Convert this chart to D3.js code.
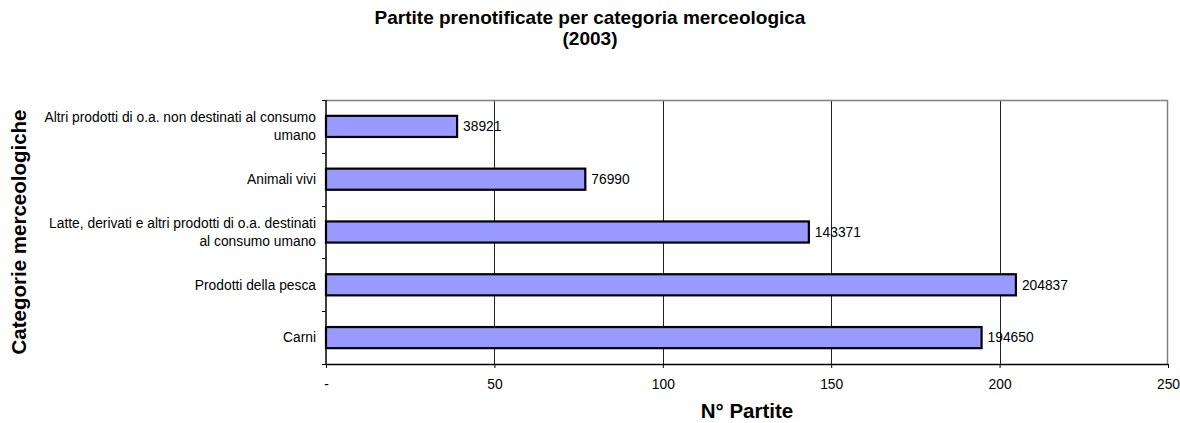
<!DOCTYPE html>
<html>
<head>
<meta charset="utf-8">
<script src="https://cdn.jsdelivr.net/npm/d3@7/dist/d3.min.js"></script>
<style>
  html, body { margin: 0; padding: 0; background: #fff; }
  svg { display: block; font-family: "Liberation Sans", Arial, sans-serif; }
</style>
</head>
<body>
<svg id="chart" width="1180" height="423"></svg>
<script>
// Categories from top to bottom; "\n" marks a line break in the label
const categories = [
  "Altri prodotti di o.a. non destinati al consumo\numano",
  "Animali vivi",
  "Latte, derivati e altri prodotti di o.a. destinati\nal consumo umano",
  "Prodotti della pesca",
  "Carni"
];
const partite = [38921, 76990, 143371, 204837, 194650];
const xTicks = [0, 50000, 100000, 150000, 200000, 250000];
const xTickLabels = ["-", "50", "100", "150", "200", "250"];

const titleLines = ["Partite prenotificate per categoria merceologica", "(2003)"];
const xTitle = "N° Partite";
const yTitle = "Categorie merceologiche";

const svg = d3.select("#chart");
const margin = { left: 326, right: 12, top: 100, bottom: 59 };
const W = 1180, H = 423;
const plotW = W - margin.left - margin.right;
const plotH = H - margin.top - margin.bottom;
const labelSize = 13.8;

const x = d3.scaleLinear().domain([0, 250000]).range([0, plotW]);
const y = d3.scaleBand().domain(categories).range([0, plotH]).paddingInner(0.6).paddingOuter(0.3);

const g = svg.append("g").attr("transform", `translate(${margin.left},${margin.top})`);

// Vertical gridlines
g.append("g").selectAll("line")
  .data(xTicks.slice(1, -1))
  .join("line")
  .attr("x1", d => Math.round(x(d)) + 0.5).attr("x2", d => Math.round(x(d)) + 0.5)
  .attr("y1", 0).attr("y2", plotH)
  .attr("stroke", "#222").attr("stroke-width", 1);

// Plot frame (top and right edges)
g.append("path")
  .attr("d", `M0,0.5H${plotW - 0.5}V${plotH}`)
  .attr("fill", "none").attr("stroke", "#808080").attr("stroke-width", 1.5);

// Bars
g.append("g").selectAll("rect")
  .data(partite)
  .join("rect")
  .attr("x", 0)
  .attr("y", (d, i) => y(categories[i]))
  .attr("width", d => x(d))
  .attr("height", y.bandwidth())
  .attr("fill", "#9999ff")
  .attr("stroke", "#000")
  .attr("stroke-width", 2.2);

// Value labels
g.append("g").selectAll("text")
  .data(partite)
  .join("text")
  .attr("x", d => x(d) + 6)
  .attr("y", (d, i) => y(categories[i]) + y.bandwidth() / 2)
  .attr("dy", "0.35em")
  .attr("font-size", labelSize)
  .attr("fill", "#000")
  .text(d => d);

// Bottom axis
const xAxis = d3.axisBottom(x)
  .tickValues(xTicks)
  .tickFormat((d, i) => xTickLabels[i])
  .tickSizeInner(4).tickSizeOuter(0).tickPadding(11);
const gx = g.append("g").attr("transform", `translate(0,${plotH})`).call(xAxis);
gx.select(".domain").attr("stroke", "#000").attr("stroke-width", 1.5);
gx.selectAll(".tick line").attr("stroke", "#000");
gx.selectAll(".tick text").attr("font-size", labelSize).attr("fill", "#000")
  .attr("font-family", "'Liberation Sans', Arial, sans-serif");

// Left axis: line plus ticks between categories
g.append("line")
  .attr("x1", 0).attr("x2", 0).attr("y1", 0).attr("y2", plotH)
  .attr("stroke", "#000").attr("stroke-width", 1.5);
const boundaries = d3.range(categories.length + 1).map(i => i * plotH / categories.length);
g.append("g").selectAll("line")
  .data(boundaries)
  .join("line")
  .attr("x1", -4).attr("x2", 0)
  .attr("y1", d => Math.round(d) + 0.5).attr("y2", d => Math.round(d) + 0.5)
  .attr("stroke", "#000");

// Category labels (right-aligned, possibly two lines)
const lineH = 17.5;
const catLabels = g.append("g").selectAll("text")
  .data(categories)
  .join("text")
  .attr("text-anchor", "end")
  .attr("font-size", labelSize)
  .attr("fill", "#000")
  .attr("transform", d => `translate(-10,${y(d) + y.bandwidth() / 2})`);
catLabels.each(function(d) {
  const lines = d.split("\n");
  const t = d3.select(this);
  lines.forEach((ln, i) => {
    t.append("tspan")
      .attr("x", 0)
      .attr("y", (i - (lines.length - 1) / 2) * lineH)
      .attr("dy", "0.35em")
      .text(ln);
  });
});

// Chart title
svg.append("text")
  .attr("text-anchor", "middle")
  .attr("font-size", 19).attr("font-weight", "bold")
  .selectAll("tspan").data(titleLines).join("tspan")
  .attr("x", 590).attr("y", (d, i) => 24 + i * 21)
  .text(d => d);

// Axis titles
svg.append("text")
  .attr("x", margin.left + plotW / 2).attr("y", 418)
  .attr("text-anchor", "middle")
  .attr("font-size", 20.5).attr("font-weight", "bold")
  .text(xTitle);

svg.append("text")
  .attr("transform", `translate(26,${margin.top + plotH / 2}) rotate(-90)`)
  .attr("text-anchor", "middle")
  .attr("font-size", 20.5).attr("font-weight", "bold")
  .text(yTitle);
</script>
</body>
</html>
